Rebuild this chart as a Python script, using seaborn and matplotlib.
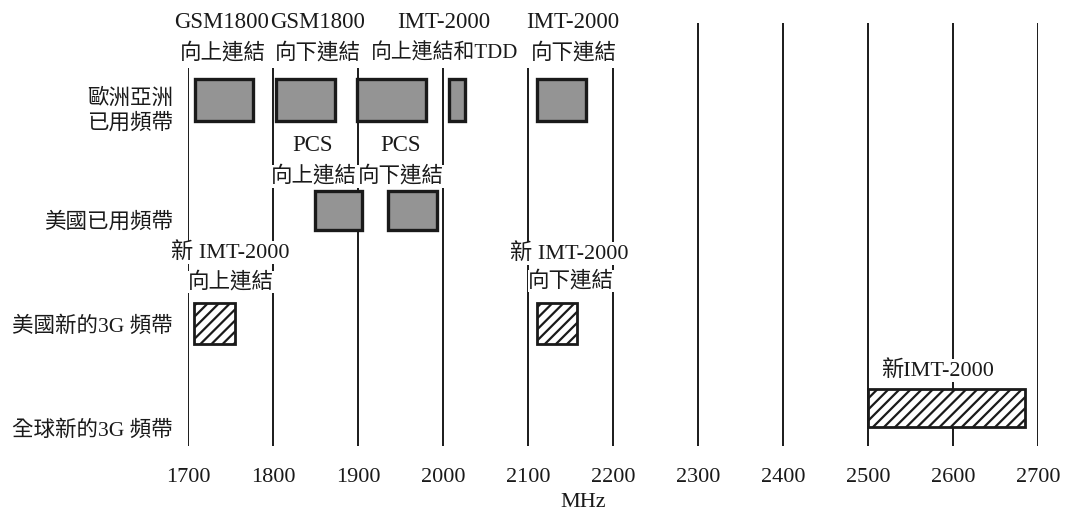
import matplotlib
matplotlib.use("Agg")
import matplotlib.pyplot as plt
import seaborn as sns

# ---------------- data ----------------
row_labels = ["歐洲亞洲\n已用頻帶", "美國已用頻帶", "美國新的3G 頻帶", "全球新的3G 頻帶"]
freq_ticks = [1700, 1800, 1900, 2000, 2100, 2200, 2300, 2400, 2500, 2600, 2700]

eu_start = [1708, 1803, 1899, 2007, 2111]
eu_end = [1776, 1873, 1980, 2026, 2168]
us_start = [1849, 1935]
us_end = [1905, 1993]
us_new_start = [1707, 2110]
us_new_end = [1755, 2158]
global_start = [2500]
global_end = [2685]

# ---------------- style ----------------
sns.set_theme(style="white")
FONT = ["Liberation Serif", "Noto Sans CJK TC", "DejaVu Sans"]
plt.rcParams["font.family"] = FONT
plt.rcParams["hatch.linewidth"] = 1.6
INK = "#1a1a1a"

W, H = 1069, 511
fig = plt.figure(figsize=(W / 100, H / 100), dpi=100)
x0_px, x1_px = 188, 1038
top_px, bot_px = 23, 446
ax = fig.add_axes([x0_px / W, (H - bot_px) / H, (x1_px - x0_px) / W, (bot_px - top_px) / H])
ax.set_xlim(1700, 2700)
ax.set_ylim(bot_px, top_px)
for s in ax.spines.values():
    s.set_visible(False)

# row layout (vertical centre / height of boxes, in px-like units)
row_box = [(99.5, 42), (210.5, 39), (323.5, 41), (408, 38)]
label_y = [107, 220, 324, 428]

# vertical grid lines
short_top = 68
for f in freq_ticks:
    top = short_top if f <= 2200 else top_px
    ax.vlines(f, bot_px, top, color=INK, lw=1.4, zorder=1)

grey = dict(color="#949494", edgecolor=INK, linewidth=2.4, zorder=3)
hatch = dict(color="white", edgecolor=INK, linewidth=2.0, hatch="///", zorder=3)

def bars(starts, ends, row, style):
    yc, h = row_box[row]
    ax.barh([yc] * len(starts), [e - s for s, e in zip(starts, ends)], left=starts,
            height=h, align="center", **style)

bars(eu_start, eu_end, 0, grey)
bars(us_start, us_end, 1, grey)
bars(us_new_start, us_new_end, 2, hatch)
bars(global_start, global_end, 3, hatch)

# annotations
FS_LAT = 16.5
FS_CJK = 15.5
box_white = dict(facecolor="white", edgecolor="none", pad=0.5)

def lab(x, y, s, fs, ha="center"):
    ax.text(x, y, s, ha=ha, va="center", fontsize=fs, color=INK, zorder=5,
            bbox=box_white, clip_on=False)

lab(1739, 22.5, "GSM1800", FS_LAT)
lab(1741, 53, "向上連結", FS_CJK)
lab(1852, 22.5, "GSM1800", FS_LAT)
lab(1853, 53, "向下連結", FS_CJK)
lab(2001, 22.5, "IMT-2000", FS_LAT)
lab(2001.5, 53, "向上連結和TDD", 15)
lab(2153, 22.5, "IMT-2000", FS_LAT)
lab(2154, 53, "向下連結", FS_CJK)

lab(1847, 145, "PCS", FS_LAT)
lab(1848, 176.5, "向上連結", FS_CJK)
lab(1949.5, 145, "PCS", FS_LAT)
lab(1950.5, 176.5, "向下連結", FS_CJK)

lab(1750, 252.5, "新 IMT-2000", 16)
lab(1751, 282, "向上連結", FS_CJK)
lab(2148, 253.5, "新 IMT-2000", 16)
lab(2151, 281, "向下連結", FS_CJK)

lab(2515, 370.5, "新IMT-2000", 16, ha="left")

# axes ticks
ax.set_xticks(freq_ticks)
ax.set_xticklabels([str(t) for t in freq_ticks], fontsize=16, color=INK)
ax.set_yticks(label_y)
ax.set_yticklabels(row_labels, fontsize=FS_CJK, color=INK, linespacing=1.25)
ax.tick_params(axis="x", length=0, pad=15.5)
ax.tick_params(axis="y", length=0, pad=11)
ax.grid(False)

# MHz label in figure pixel coords (origin bottom-left)
fig.text(583 / W, (H - 502) / H, "MHz", ha="center", va="center",
         fontsize=16, color=INK)

fig.savefig("out.png", dpi=100, facecolor="white")
